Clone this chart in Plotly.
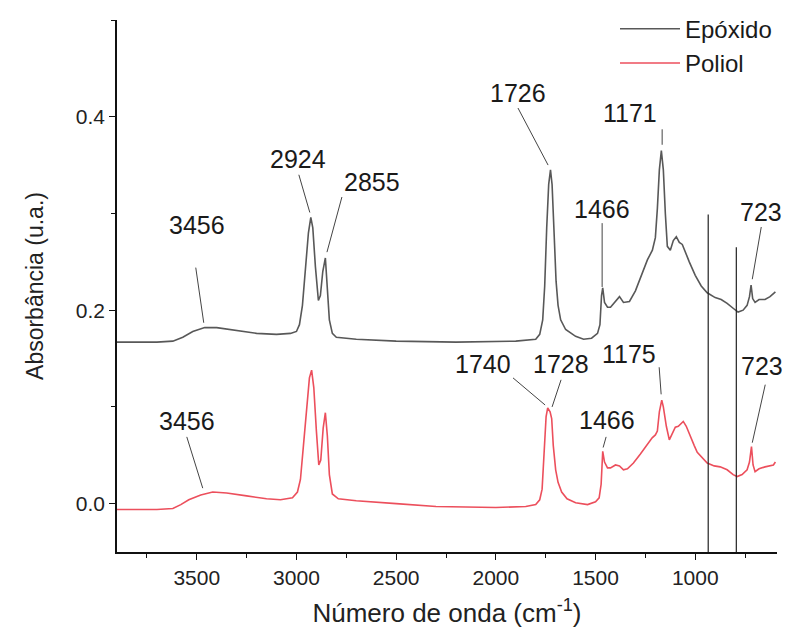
import plotly.graph_objects as go

# ---------------- data ----------------
epox_x = [3900, 3700, 3620, 3570, 3520, 3460, 3400, 3300, 3200, 3100, 3030, 3000, 2985, 2970, 2955, 2940,
          2928, 2918, 2905, 2890, 2880, 2868, 2855, 2845, 2835, 2820, 2800, 2700, 2500, 2200, 1900, 1800,
          1780, 1765, 1755, 1745, 1735, 1726, 1718, 1708, 1698, 1688, 1675, 1650, 1600, 1560, 1520, 1490,
          1478, 1470, 1464, 1455, 1440, 1425, 1400, 1380, 1360, 1330, 1300, 1270, 1240, 1215, 1200, 1190,
          1180, 1170, 1160, 1150, 1140, 1125, 1110, 1095, 1080, 1065, 1050, 1030, 1000, 970, 940, 900,
          870, 840, 810, 785, 760, 740, 728, 720, 712, 700, 680, 650, 625, 610, 598]
epox_y = [0.167, 0.167, 0.168, 0.172, 0.178, 0.182, 0.182, 0.179, 0.176, 0.175, 0.176, 0.178, 0.185, 0.205,
          0.245, 0.280, 0.296, 0.285, 0.245, 0.210, 0.215, 0.240, 0.254, 0.225, 0.190, 0.176, 0.172, 0.170,
          0.168, 0.167, 0.168, 0.170, 0.175, 0.190, 0.225, 0.285, 0.330, 0.345, 0.330, 0.280, 0.230, 0.205,
          0.190, 0.180, 0.173, 0.170, 0.171, 0.176, 0.185, 0.215, 0.223, 0.208, 0.203, 0.203, 0.209, 0.214,
          0.208, 0.209, 0.220, 0.235, 0.252, 0.262, 0.275, 0.305, 0.345, 0.365, 0.345, 0.300, 0.266, 0.262,
          0.272, 0.276, 0.270, 0.268, 0.260, 0.250, 0.236, 0.225, 0.218, 0.213, 0.211, 0.207, 0.202, 0.198,
          0.200, 0.205, 0.214, 0.226, 0.212, 0.208, 0.211, 0.211, 0.214, 0.217, 0.219]

poli_x = [3900, 3700, 3620, 3580, 3540, 3480, 3420, 3350, 3250, 3150, 3080, 3020, 2995, 2980, 2965, 2950,
          2935, 2924, 2913, 2900, 2888, 2878, 2866, 2855, 2845, 2835, 2820, 2790, 2700, 2500, 2300, 2000,
          1850, 1800, 1780, 1768, 1758, 1748, 1740, 1733, 1728, 1720, 1712, 1700, 1688, 1670, 1643, 1600,
          1540, 1500, 1482, 1472, 1464, 1455, 1440, 1425, 1400, 1380, 1360, 1340, 1310, 1276, 1240, 1216,
          1200, 1190, 1180, 1168, 1160, 1145, 1130, 1115, 1100, 1085, 1060, 1045, 1025, 1005, 990, 965,
          940, 905, 875, 840, 810, 790, 765, 740, 728, 718, 710, 700, 680, 650, 625, 608, 598]
poli_y = [-0.006, -0.006, -0.005, -0.001, 0.004, 0.009, 0.012, 0.011, 0.008, 0.005, 0.004, 0.006, 0.012,
          0.025, 0.060, 0.100, 0.130, 0.138, 0.120, 0.075, 0.040, 0.045, 0.078, 0.094, 0.070, 0.030, 0.010,
          0.005, 0.003, 0.000, -0.003, -0.004, -0.003, -0.001, 0.004, 0.015, 0.050, 0.090, 0.099, 0.096,
          0.095, 0.088, 0.060, 0.035, 0.022, 0.012, 0.005, 0.001, -0.001, 0.002, 0.006, 0.020, 0.054, 0.043,
          0.037, 0.037, 0.040, 0.039, 0.035, 0.036, 0.042, 0.051, 0.062, 0.068, 0.071, 0.075, 0.095, 0.107,
          0.100, 0.080, 0.066, 0.072, 0.079, 0.080, 0.085, 0.080, 0.069, 0.060, 0.053, 0.047, 0.042, 0.039,
          0.038, 0.035, 0.030, 0.028, 0.030, 0.035, 0.043, 0.059, 0.040, 0.033, 0.036, 0.038, 0.039, 0.040,
          0.043]

series_names = ["Epóxido", "Poliol"]

# annotation labels: text, text position (x, y), leader line (x0, y0, x1, y1)
labels = ["3456", "2924", "2855", "1726", "1466", "1171", "723",
          "3456", "1740", "1728", "1466", "1175", "723"]
label_pos = [(3500, 0.288), (2993, 0.356), (2622, 0.333), (1889, 0.425), (1467, 0.305), (1326, 0.404),
             (669, 0.302), (3550, 0.085), (2065, 0.144), (1673, 0.144), (1442, 0.086), (1331, 0.155),
             (664, 0.142)]
leaders = [(3505, 0.244, 3465, 0.187), (2988, 0.340, 2933, 0.301), (2772, 0.317, 2847, 0.260),
           (1889, 0.409, 1738, 0.350), (1467, 0.290, 1467, 0.224), (1166, 0.387, 1166, 0.371),
           (669, 0.286, 714, 0.232), (3550, 0.069, 3470, 0.016), (1914, 0.130, 1753, 0.102),
           (1673, 0.128, 1718, 0.100), (1447, 0.069, 1462, 0.058), (1181, 0.141, 1171, 0.113),
           (649, 0.123, 714, 0.063)]

# vertical marker lines (x, top y)
vlines = [(935, 0.299), (794, 0.265)]

x_range = [3900, 590]
y_range = [-0.05, 0.5]

FONT = "Liberation Sans, Arial, sans-serif"

fig = go.Figure()
fig.add_trace(go.Scatter(x=epox_x, y=epox_y, mode="lines", name=series_names[0],
                         line=dict(color="#585858", width=1.6)))
fig.add_trace(go.Scatter(x=poli_x, y=poli_y, mode="lines", name=series_names[1],
                         line=dict(color="#ec4f5c", width=1.6)))

for t, (ax_, ay_) in zip(labels, label_pos):
    fig.add_annotation(x=ax_, y=ay_, text=t, showarrow=False, xref="x", yref="y",
                       font=dict(size=25, color="#1a1a1a", family=FONT))

for (x0, y0, x1, y1) in leaders:
    fig.add_shape(type="line", x0=x0, y0=y0, x1=x1, y1=y1, xref="x", yref="y",
                  line=dict(color="#444444", width=1))

for (vx, vtop) in vlines:
    fig.add_shape(type="line", x0=vx, x1=vx, y0=y_range[0], y1=vtop, xref="x", yref="y",
                  line=dict(color="#222222", width=1.2))

fig.update_layout(
    width=788, height=639,
    margin=dict(l=117, r=11, t=20, b=87, autoexpand=False),
    paper_bgcolor="white", plot_bgcolor="white",
    font=dict(family=FONT, size=20, color="#222222"),
    showlegend=True,
    legend=dict(x=1.0, xanchor="right", y=1.025, yanchor="top", bgcolor="rgba(0,0,0,0)",
                font=dict(size=24, family=FONT, color="#1a1a1a"), itemwidth=60,
                tracegroupgap=0),
    xaxis=dict(range=x_range, showgrid=False, zeroline=False, showline=True, linecolor="#111111",
               linewidth=1.6, ticks="outside", ticklen=6, tickwidth=1.4, tickcolor="#111111",
               tickvals=[3500, 3000, 2500, 2000, 1500, 1000], tickfont=dict(size=21),
               minor=dict(dtick=250, tick0=0, ticks="outside", ticklen=4, tickcolor="#111111"),
               title=dict(text="Número de onda (cm<sup>-1</sup>)", font=dict(size=26), standoff=16)),
    yaxis=dict(range=y_range, showgrid=False, zeroline=False, showline=True, linecolor="#111111",
               linewidth=1.6, ticks="outside", ticklen=6, tickwidth=1.4, tickcolor="#111111",
               tickvals=[0.0, 0.2, 0.4], ticktext=["0.0", "0.2", "0.4"], tickfont=dict(size=21),
               minor=dict(dtick=0.1, tick0=0, ticks="outside", ticklen=4, tickcolor="#111111"),
               title=dict(text="Absorbância (u.a.)", font=dict(size=23), standoff=26)),
)

fig.write_html("out.html")
